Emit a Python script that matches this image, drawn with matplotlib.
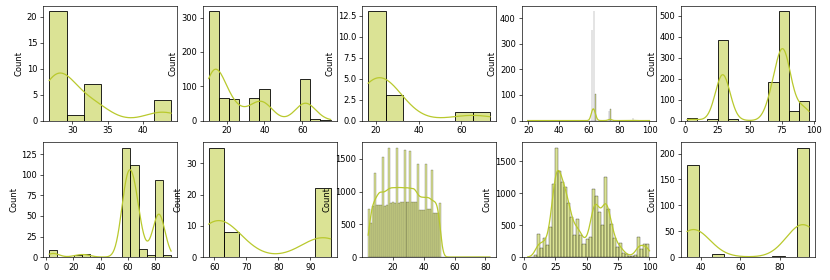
import numpy as np
import matplotlib
matplotlib.use("Agg")
import matplotlib.pyplot as plt
import seaborn as sns

COLOR = "#b9c92d"

# --- bin range (lo, hi) + count in each bin ---
P1_RANGE = (26.7, 44.0)
P1_COUNTS = [21, 1, 7, 0, 0, 0, 4]

P2_RANGE = (10.5, 75.0)
P2_COUNTS = [318, 67, 63, 0, 65, 91, 0, 0, 0, 122, 6, 1]

P3_RANGE = (16.4, 73.5)
P3_COUNTS = [13, 3, 0, 0, 0, 1, 1]

# panel 4: a few distinct values, very narrow bins
P4_RANGE = (19.5, 100.0)
P4_NBINS = 470
P4_VALUES = [19.5, 62.2, 63.2, 64.3, 73.3, 74.3, 89.1, 100.0]
P4_COUNTS = [1, 354, 426, 103, 38, 44, 10, 1]

P5_RANGE = (1.6, 96.1)
P5_COUNTS = [10, 0, 6, 385, 9, 0, 0, 0, 183, 520, 45, 93]

P6_RANGE = (2.5, 91.5)
P6_COUNTS = [8, 0, 0, 3, 4, 0, 0, 0, 0, 133, 112, 10, 3, 94, 2]

P7_RANGE = (58.2, 96.3)
P7_COUNTS = [35, 8, 0, 0, 0, 0, 0, 22]

# panel 8: integer values 4..51 plus a couple of stragglers
P8_RANGE = (4, 83)
P8_NBINS = 62
P8_VALUES = list(range(4, 52)) + [75, 83]
P8_COUNTS = [240, 500, 513, 780, 640, 650, 790, 800, 790, 770,
             763, 780, 790, 830, 830, 830, 840, 820, 835, 832,
             830, 840, 835, 820, 821, 845, 840, 810, 805, 840,
             835, 838, 710, 710, 718, 720, 715, 712, 708, 728,
             730, 665, 663, 667, 670, 665, 700, 130, 5, 2]

P9_RANGE = (3.0, 100.0)
P9_COUNTS = [0, 0, 30, 365, 135, 300, 190, 475, 1146, 1711,
             1340, 1180, 1100, 850, 620, 350, 600, 340, 200, 280,
             320, 1060, 950, 700, 500, 1250, 750, 520, 300, 150,
             220, 60, 40, 20, 20, 30, 320, 120, 200, 200]

P10_RANGE = (32.9, 94.8)
P10_COUNTS = [178, 0, 5, 0, 0, 0, 0, 2, 0, 211]


def draw(ax, rng, nbins, values, counts, bw=1.0, **kw):
    # one observation per count; zero-weight points at the range ends
    # only stretch the kde support, they don't change its shape
    obs = np.repeat(np.asarray(values, float), counts)
    x = np.concatenate([[rng[0]], obs, [rng[1]]])
    w = np.concatenate([[0.0], np.ones(len(obs)), [0.0]])
    sns.histplot(x=x, weights=w, bins=nbins, binrange=rng,
                 kde=True, kde_kws={"bw_adjust": bw},
                 color=COLOR, ax=ax, **kw)


def draw_binned(ax, rng, counts, bw=1.0):
    edges = np.linspace(rng[0], rng[1], len(counts) + 1)
    centers = (edges[:-1] + edges[1:]) / 2
    draw(ax, rng, len(counts), centers, counts, bw=bw)


fig, axes = plt.subplots(2, 5, figsize=(830 / 60, 280 / 60), dpi=60)
fig.subplots_adjust(left=0.052, right=0.982, top=0.979, bottom=0.082,
                    wspace=0.19, hspace=0.19)

draw_binned(axes[0, 0], P1_RANGE, P1_COUNTS)
draw_binned(axes[0, 1], P2_RANGE, P2_COUNTS, bw=1.1)
draw_binned(axes[0, 2], P3_RANGE, P3_COUNTS, bw=1.2)
draw(axes[0, 3], P4_RANGE, P4_NBINS, P4_VALUES, P4_COUNTS, linewidth=0.25)
draw_binned(axes[0, 4], P5_RANGE, P5_COUNTS)
draw_binned(axes[1, 0], P6_RANGE, P6_COUNTS)
draw_binned(axes[1, 1], P7_RANGE, P7_COUNTS)
draw(axes[1, 2], P8_RANGE, P8_NBINS, P8_VALUES, P8_COUNTS)
draw_binned(axes[1, 3], P9_RANGE, P9_COUNTS)
draw_binned(axes[1, 4], P10_RANGE, P10_COUNTS)

for ax in axes.flat:
    ax.set_xlabel("")
    ax.set_ylabel("Count")

fig.savefig("out.png", dpi=60)
